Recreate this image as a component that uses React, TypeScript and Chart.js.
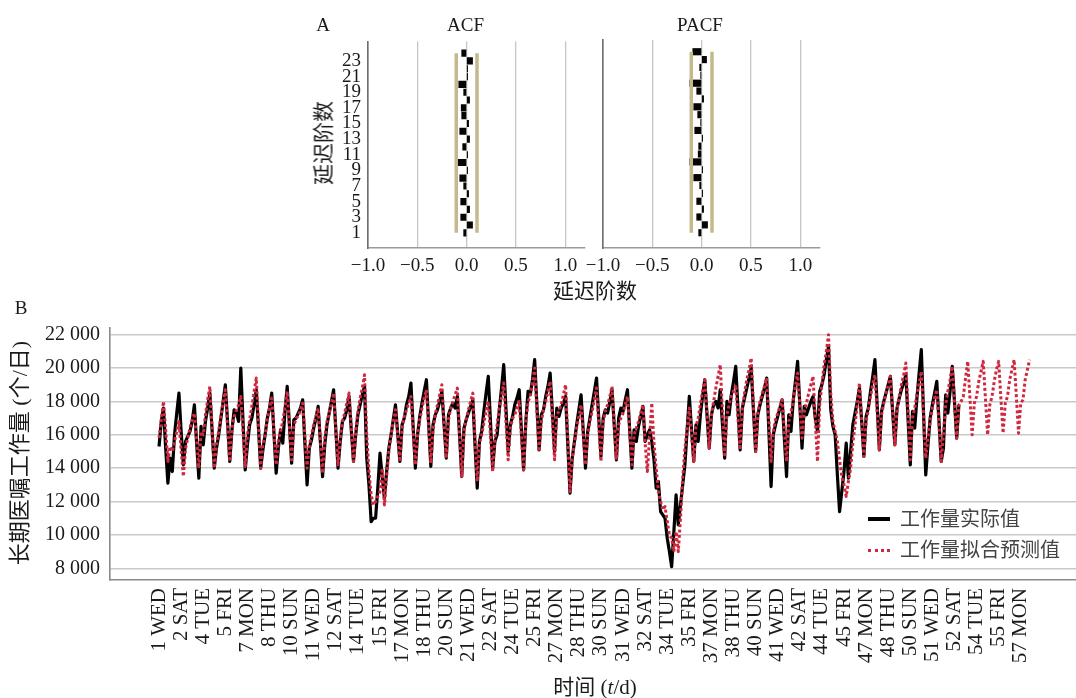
import React, { useEffect, useRef } from 'react';
import { Chart, registerables } from 'chart.js';

Chart.register(...registerables);

const SERIF = '"Liberation Serif", "Times New Roman", "Noto Sans CJK SC", serif';

// ---------- Panel A: residual ACF / PACF ----------
const lags = [1, 2, 3, 4, 5, 6, 7, 8, 9, 10, 11, 12, 13, 14, 15, 16, 17, 18, 19, 20, 21, 22, 23, 24];
const acfValues = [-0.03, 0.06, -0.06, 0.03, -0.06, 0.02, -0.03, -0.07, 0.01, -0.115, 0.01, -0.04,
  0.03, -0.07, 0.02, -0.05, -0.055, 0.03, -0.03, -0.08, 0.01, 0.01, 0.06, -0.05];
const pacfValues = [-0.03, 0.06, -0.05, 0.02, -0.05, 0.01, -0.02, -0.08, 0.01, -0.12, -0.035, -0.03,
  0.01, -0.07, -0.01, -0.04, -0.08, 0.02, -0.05, -0.12, -0.01, -0.02, 0.05, -0.09];
const confLimit = 0.105;
const corrTicks = [-1, -0.5, 0, 0.5, 1];
const corrTickLabels = ['\u22121.0', '\u22120.5', '0.0', '0.5', '1.0'];
const lagTicks = [1, 3, 5, 7, 9, 11, 13, 15, 17, 19, 21, 23];

// ---------- Panel B: daily workload (day 0 = week 1 Wednesday) ----------
const actualValues = [
  15300, 16800, 17600, 15200, 13100, 14600, 13800,
  16000, 17300, 18500, 16200, 14200, 15600, 15900,
  16200, 16800, 17800, 15500, 13400, 16500, 15400,
  16800, 17600, 18500, 16300, 14000, 15200, 16000,
  17000, 18000, 19000, 16800, 14400, 16300, 17500,
  17300, 16800, 20000, 16800, 13900, 15400, 16600,
  17000, 17800, 18700, 16400, 14000, 15100, 16000,
  17000, 17600, 18500, 16100, 13700, 15200, 16300,
  15500, 17400, 18900, 16600, 14300, 16900, 17000,
  17300, 17600, 18100, 15500, 13000, 15200, 15700,
  16400, 17000, 17700, 15600, 13500, 15400, 16600,
  17300, 18000, 18700, 16300, 14000, 15600, 16800,
  17000, 17500, 18300, 16300, 14400, 16000, 17200,
  17800, 18400, 18900, 14600, 13000, 10800, 11000,
  11000, 12800, 14900, 13500, 12200, 13800, 15200,
  16000, 16900, 17800, 16100, 14400, 16600, 17000,
  17800, 18300, 19100, 16500, 14000, 16000, 17100,
  17900, 18600, 19300, 16700, 14100, 16600, 17200,
  17500, 18000, 18600, 16600, 14600, 17200, 17600,
  17900, 17600, 18300, 16000, 13500, 16400, 16900,
  17300, 17700, 18100, 15400, 12800, 15600, 16200,
  17400, 18500, 19500, 16800, 14000, 15600, 16000,
  17500, 18800, 20200, 17600, 15000, 16600, 17100,
  17800, 18200, 18700, 16300, 13900, 16800, 18600,
  18400, 19300, 20500, 17800, 15100, 17200, 17500,
  18300, 18900, 19700, 17400, 15000, 17600, 17100,
  17600, 17900, 18300, 15400, 12500, 14600, 15600,
  16600, 17500, 18400, 16200, 14000, 16200, 17000,
  17800, 18600, 19400, 17000, 14700, 17000, 17500,
  17300, 18000, 18700, 16600, 14500, 17000, 17600,
  17400, 18100, 18700, 16300, 14000, 16300, 15600,
  16500, 17100, 17700, 15600, 16000, 16300, 15600,
  14500, 12800, 13200, 11400, 11200, 11000, 9800,
  9000, 8100, 10200, 12400, 10600, 11800, 13000,
  14200, 16300, 18300, 16300, 14400, 16600, 15600,
  17200, 18300, 19300, 17200, 15200, 17200, 17800,
  18000, 17600, 18700, 16600, 14600, 18000, 17200,
  18400, 19200, 20100, 17600, 15100, 17600, 18200,
  18800, 19400, 20000, 17500, 15000, 17200, 17800,
  18300, 18800, 19400, 16200, 12900, 16000, 16600,
  17100, 17600, 18100, 15800, 13500, 17200, 16200,
  18000, 19200, 20400, 17800, 15200, 17700, 17200,
  17600, 18000, 18300, 17000, 16200, 18600, 19000,
  19600, 20500, 21300, 17500, 16500, 16000, 13600,
  11400, 12600, 13800, 15500, 13400, 15000, 16600,
  17300, 18000, 18800, 16800, 14700, 17100, 17600,
  18600, 19500, 20500, 17800, 15100, 17400, 18000,
  18500, 19000, 19500, 17400, 15400, 17600, 18200,
  18700, 19100, 19600, 16900, 14200, 17400, 16400,
  18200, 19700, 21100, 17300, 13600, 15400, 17000,
  17800, 18500, 19200, 16800, 14400, 15200, 18400,
  17300, 18600, 20100, 18000, 15800, 17800,
];
const fittedValues = [
  15800, 16900, 18000, 16300, 14400, 15300, 15000,
  15600, 16200, 16800, 15100, 13500, 15200, 15800,
  16400, 16900, 17300, 15700, 14000, 16200, 16000,
  17200, 18100, 18900, 16400, 14000, 15400, 16200,
  17200, 18000, 18700, 16500, 14400, 16400, 17100,
  17500, 17800, 18300, 16200, 14100, 16000, 16900,
  17700, 18600, 19400, 16700, 14000, 15400, 16000,
  16900, 17600, 18200, 16200, 14200, 15600, 16200,
  16800, 17700, 18600, 16500, 14500, 16500, 17000,
  17100, 17500, 17900, 16000, 14000, 15300, 16000,
  16600, 17100, 17600, 15700, 13700, 15800, 16800,
  17300, 17900, 18500, 16300, 14200, 15800, 16800,
  17300, 17900, 18500, 16500, 14400, 16200, 17400,
  18200, 18800, 19600, 16000, 13800, 12400, 11800,
  12000, 12300, 12600, 14000, 11800, 13500, 15000,
  16000, 16800, 17500, 16000, 14400, 16400, 17100,
  17500, 17900, 18300, 16200, 14200, 16000, 16900,
  17600, 18200, 18700, 16500, 14300, 16300, 17200,
  17800, 18400, 19000, 16800, 14600, 16900, 17600,
  18000, 18400, 18800, 16100, 13500, 16200, 16900,
  17500, 18000, 18500, 15800, 13200, 15500, 16000,
  16700, 17400, 18000, 15900, 13800, 15800, 16600,
  17600, 18300, 19100, 16800, 14500, 16400, 17000,
  17200, 17600, 18000, 15900, 13900, 16800, 18000,
  18300, 19100, 20000, 17500, 15000, 16800, 17500,
  18000, 18600, 19200, 16900, 14500, 17200, 17400,
  17800, 18400, 19000, 15800, 12600, 14600, 15500,
  16400, 17100, 17800, 16000, 14200, 16000, 16800,
  17400, 18100, 18800, 16600, 14400, 16800, 17400,
  17800, 18300, 18900, 16700, 14500, 16600, 17000,
  17300, 17800, 18300, 16300, 14200, 16000, 16400,
  16800, 17300, 17800, 15500, 13800, 15800, 17900,
  15500, 14000, 12600, 12000, 11500, 11700, 10800,
  10000, 9800, 9000, 10200, 9000, 11000, 13400,
  15200, 16400, 17600, 16000, 14400, 16500, 17000,
  17800, 18600, 19300, 17200, 15200, 17200, 18000,
  18800, 19500, 20200, 17400, 14800, 17200, 17800,
  18300, 18600, 19000, 17000, 15100, 17600, 18500,
  19300, 19900, 20600, 17800, 15000, 17300, 18000,
  18500, 18900, 19400, 16900, 14400, 16200, 16900,
  17300, 17700, 18100, 16300, 14400, 16800, 17300,
  18100, 18900, 19700, 17800, 15800, 17400, 17900,
  18500, 19000, 19500, 16900, 14400, 17800, 19000,
  20200, 21000, 22000, 18500, 16800, 16200, 15600,
  14500, 13500, 13000, 12300, 13200, 14000, 15500,
  16600, 17800, 19100, 16900, 14700, 16800, 17500,
  18300, 19000, 19600, 17400, 15100, 17200, 17900,
  18500, 19000, 19500, 17500, 15400, 17500, 18300,
  19000, 19600, 20300, 17400, 14500, 17000, 17600,
  18400, 19100, 19800, 17200, 14600, 15800, 16800,
  17600, 18200, 18700, 16600, 14400, 16000, 17800,
  18600, 19300, 20100, 18000, 15800, 17800, 18000,
  18300, 19400, 20400, 18200, 16000, 17900, 18300,
  19200, 19800, 20400, 18200, 16000, 17800, 18300,
  19200, 19900, 20400, 18200, 16100, 17900, 18300,
  19300, 19900, 20500, 18300, 16100, 17900, 18100,
  19300, 19900, 20500,
];
const dayLabelStep = 10;
const xTickLabels = ['1 WED', '2 SAT', '4 TUE', '5 FRI', '7 MON', '8 THU', '10 SUN', '11 WED', '12 SAT', '14 TUE',
  '15 FRI', '17 MON', '18 THU', '20 SUN', '21 WED', '22 SAT', '24 TUE', '25 FRI', '27 MON', '28 THU',
  '30 SUN', '31 WED', '32 SAT', '34 TUE', '35 FRI', '37 MON', '38 THU', '40 SUN', '41 WED', '42 SAT',
  '44 TUE', '45 FRI', '47 MON', '48 THU', '50 SUN', '51 WED', '52 SAT', '54 TUE', '55 FRI', '57 MON'];
const yTickValues = [8000, 10000, 12000, 14000, 16000, 18000, 20000, 22000];
const yTickLabels = ['8 000', '10 000', '12 000', '14 000', '16 000', '18 000', '20 000', '22 000'];
const seriesNames = ['工作量实际值', '工作量拟合预测值'];

const BAND = '#c3b98d';
const RED = '#d0283f';

function makeCorrChart(canvas: HTMLCanvasElement, values: number[], showY: boolean, yWidth: number, padTop: number) {
  const band = (x: number) => ({
    type: 'line' as const,
    data: [{ x, y: lags[0] }, { x, y: lags[lags.length - 1] }],
    borderColor: BAND,
    borderWidth: 3.5,
    pointRadius: 0,
    indexAxis: 'y' as const,
    order: 0,
  });
  return new Chart(canvas, {
    type: 'bar',
    data: {
      datasets: [
        band(-confLimit),
        band(confLimit),
        {
          type: 'bar',
          data: lags.map((l, i) => ({ x: values[i], y: l })),
          backgroundColor: '#050505',
          barThickness: 6.5,
          order: 1,
        } as any,
      ],
    },
    options: {
      indexAxis: 'y',
      responsive: false,
      animation: false,
      events: [],
      layout: { padding: { top: padTop, right: 5, left: 0, bottom: 0 }, autoPadding: false } as any,
      plugins: { legend: { display: false }, tooltip: { enabled: false } },
      scales: {
        x: {
          type: 'linear',
          min: -1,
          max: 1.2,
          offset: false,
          afterBuildTicks: (s: any) => { s.ticks = corrTicks.map((v) => ({ value: v })); },
          afterFit: (s: any) => { s.height = 32; },
          ticks: {
            callback: (v: any) => corrTickLabels[corrTicks.indexOf(Number(v))],
            font: { family: SERIF, size: 19 },
            color: '#1a1a1a',
            padding: 7,
            maxRotation: 0,
            autoSkip: false,
          },
          grid: { color: '#c6c6c6', lineWidth: 1.3, drawTicks: false, offset: false },
          border: { color: '#9a9a9a', width: 1.5 },
        },
        y: {
          type: 'linear',
          min: -0.94,
          max: 25.49,
          offset: false,
          afterBuildTicks: (s: any) => { s.ticks = lagTicks.map((v) => ({ value: v })); },
          afterFit: (s: any) => { s.width = yWidth; },
          ticks: {
            display: showY,
            callback: (v: any) => String(v),
            font: { family: SERIF, size: 19, lineHeight: 1 },
            color: '#1a1a1a',
            padding: 7,
            autoSkip: false,
          },
          grid: { display: false, drawTicks: false, offset: false },
          border: { color: '#6e6e6e', width: 1.6 },
        },
      },
    } as any,
  });
}

function makeLineChart(canvas: HTMLCanvasElement) {
  return new Chart(canvas, {
    type: 'line',
    data: {
      datasets: [
        {
          label: seriesNames[1],
          data: fittedValues.map((v, i) => ({ x: i, y: v })),
          borderColor: RED,
          borderWidth: 3,
          borderDash: [3, 2.4],
          borderJoinStyle: 'round',
          pointRadius: 0,
          tension: 0,
          order: 0,
        },
        {
          label: seriesNames[0],
          data: actualValues.map((v, i) => ({ x: i, y: v })),
          borderColor: '#000',
          borderWidth: 3.2,
          borderJoinStyle: 'round',
          pointRadius: 0,
          tension: 0,
          order: 1,
        },
      ],
    },
    options: {
      responsive: false,
      animation: false,
      events: [],
      layout: { padding: { top: 28, right: 0, left: 0, bottom: 0 }, autoPadding: false } as any,
      plugins: { legend: { display: false }, tooltip: { enabled: false } },
      scales: {
        x: {
          type: 'linear',
          min: -22.2,
          max: 415,
          offset: false,
          afterBuildTicks: (s: any) => { s.ticks = xTickLabels.map((_, i) => ({ value: i * dayLabelStep })); },
          afterFit: (s: any) => { s.height = 118; },
          ticks: {
            callback: (v: any) => xTickLabels[Math.round(Number(v) / dayLabelStep)],
            autoSkip: false,
            minRotation: 90,
            maxRotation: 90,
            font: { family: SERIF, size: 21 },
            color: '#1a1a1a',
            padding: 8,
          },
          grid: { display: false, drawTicks: false },
          border: { color: '#8a8a8a', width: 1.6 },
        },
        y: {
          type: 'linear',
          min: 7300,
          max: 22400,
          afterBuildTicks: (s: any) => { s.ticks = yTickValues.map((v) => ({ value: v })); },
          afterFit: (s: any) => { s.width = 110; },
          ticks: {
            callback: (v: any) => yTickLabels[yTickValues.indexOf(Number(v))],
            font: { family: SERIF, size: 20 },
            color: '#1a1a1a',
            padding: 10,
            autoSkip: false,
          },
          grid: { color: '#c9c9c9', lineWidth: 1.6, drawTicks: false },
          border: { color: '#8a8a8a', width: 1.6 },
        },
      },
    } as any,
  });
}

const abs = (cx: number, cy: number, size: number, extra: React.CSSProperties = {}): React.CSSProperties => ({
  position: 'absolute',
  left: cx,
  top: cy,
  transform: 'translate(-50%, -50%)',
  fontSize: size,
  lineHeight: 1,
  whiteSpace: 'nowrap',
  color: '#1a1a1a',
  fontFamily: SERIF,
  ...extra,
});

export default function App() {
  const acfRef = useRef<HTMLCanvasElement>(null);
  const pacfRef = useRef<HTMLCanvasElement>(null);
  const lineRef = useRef<HTMLCanvasElement>(null);

  useEffect(() => {
    const charts = [
      makeCorrChart(acfRef.current!, acfValues, true, 48, 10),
      makeCorrChart(pacfRef.current!, pacfValues, false, 25, 10),
      makeLineChart(lineRef.current!),
    ];
    return () => charts.forEach((c) => c.destroy());
  }, []);

  return (
    <div style={{ position: 'absolute', left: 0, top: 0, width: 1076, height: 698, background: '#fff', overflow: 'hidden' }}>
      <canvas ref={acfRef} width={270} height={255} style={{ position: 'absolute', left: 320, top: 25, width: 270, height: 255 }} />
      <canvas ref={pacfRef} width={247} height={250} style={{ position: 'absolute', left: 578, top: 30, width: 247, height: 250 }} />
      <canvas ref={lineRef} width={1076} height={398} style={{ position: 'absolute', left: 0, top: 300, width: 1076, height: 398 }} />

      <div style={abs(323, 24, 19)}>A</div>
      <div style={abs(465.5, 24, 19)}>ACF</div>
      <div style={abs(700, 24, 19)}>PACF</div>
      <div style={abs(324, 143, 21, { transform: 'translate(-50%, -50%) rotate(-90deg)' })}>延迟阶数</div>
      <div style={abs(595, 291, 21)}>延迟阶数</div>

      <div style={abs(21, 307, 19)}>B</div>
      <div style={abs(20, 453, 22, { transform: 'translate(-50%, -50%) rotate(-90deg)' })}>长期医嘱工作量 (个/日)</div>
      <div style={abs(595, 687, 21)}>时间 (<i>t</i>/d)</div>

      <div style={{ position: 'absolute', left: 868, top: 517, width: 22, height: 4, background: '#000' }} />
      <div style={abs(900, 519, 20, { transform: 'translate(0, -50%)', color: '#444' })}>{seriesNames[0]}</div>
      <div style={{ position: 'absolute', left: 868, top: 548.5, width: 22, height: 0, borderTop: `3px dotted ${RED}` }} />
      <div style={abs(900, 550, 20, { transform: 'translate(0, -50%)', color: '#444' })}>{seriesNames[1]}</div>
    </div>
  );
}
